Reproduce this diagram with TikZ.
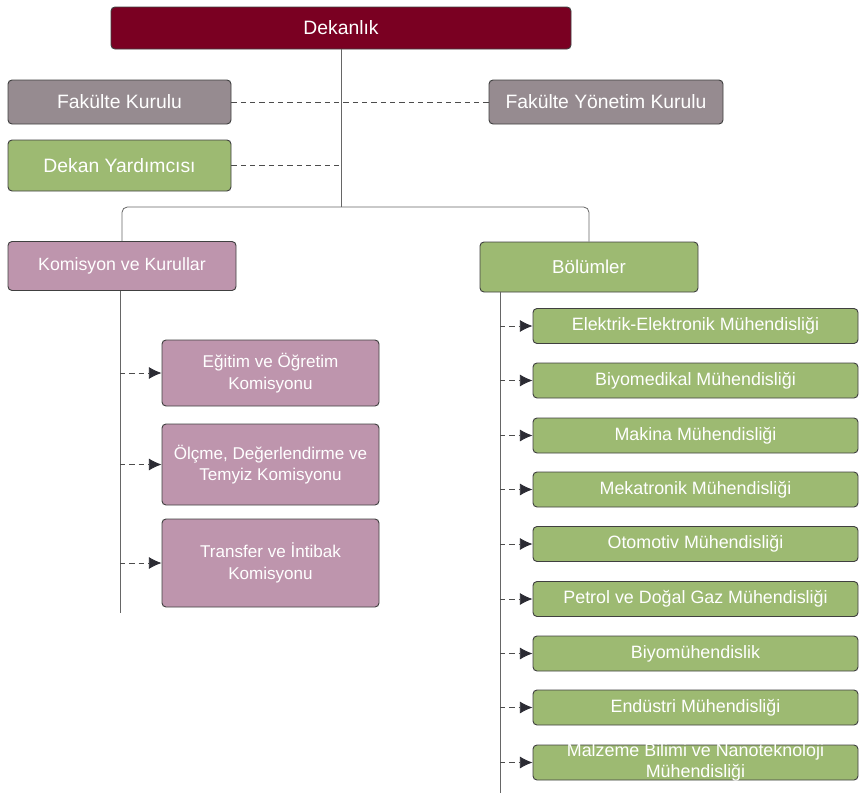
\documentclass[tikz,border=0pt]{standalone}
\usepackage{fontspec}
\setmainfont{Liberation Sans}
\usepackage{xcolor}
\usetikzlibrary{arrows.meta}
\usetikzlibrary{calc}

\definecolor{dekanred}{HTML}{7A0022}
\definecolor{kurulgray}{HTML}{968B90}
\definecolor{birimgreen}{HTML}{9DBA72}
\definecolor{komispink}{HTML}{BE95AD}
\definecolor{tipgray}{HTML}{2B2B33}

\tikzset{
  unitbox/.style={draw=black!75, line width=0.7pt, rounded corners=3pt, text=white,
    align=center, inner xsep=2pt, inner ysep=0pt, font=\fontsize{13}{16}\selectfont},
  topbox/.style={unitbox, font=\fontsize{14.5}{17}\selectfont},
  link/.style={draw=black!60, line width=0.6pt},
  dashlink/.style={draw=black!70, line width=0.6pt, dash pattern=on 4pt off 3pt},
  dasharrow/.style={dashlink, -{Latex[length=9.5pt,width=9pt,color=tipgray]}}
}

\begin{document}
\begin{tikzpicture}[x=0.75pt,y=-0.75pt]
        \useasboundingbox (0,0) rectangle (860,796);

        \node[topbox, fill=dekanred, minimum width=345pt, minimum height=31.5pt]
        (dekan) at (341,28) {Dekanlık};

        \node[topbox, fill=kurulgray, minimum width=167.25pt, minimum height=33pt]
        (fkurul) at (119.5,102) {Fakülte Kurulu};
        \node[topbox, fill=kurulgray, minimum width=175.5pt, minimum height=33pt]
        (fyk) at (606,102) {Fakülte Yönetim Kurulu};
        \node[topbox, fill=birimgreen, minimum width=167.25pt, minimum height=38.25pt]
        (dyard) at (119.5,165.5) {Dekan Yardımcısı};

        \coordinate (split) at (341,207);
        \draw[link] (dekan) -- (split);
        \draw[dashlink] (fkurul) -- (fyk);
        \draw[dashlink] (dyard.east) -- (dyard.east -| split);

        \node[unitbox, fill=komispink, minimum width=171pt, minimum height=36.75pt,
        font=\fontsize{13.3}{16}\selectfont] (komis) at (122,266) {Komisyon ve Kurullar};
        \node[unitbox, fill=birimgreen, minimum width=163.5pt, minimum height=37.5pt,
        font=\fontsize{14}{16}\selectfont] (bolum) at (589,267) {Bölümler};
        \draw[link, rounded corners=4pt] (komis.north) |- (split) -| (bolum.north);

        \node[unitbox, fill=komispink, minimum width=162.75pt, minimum height=49.5pt,
        font=\fontsize{12.8}{16.3}\selectfont] (egitim) at (270.5,373)
        {Eğitim ve Öğretim\\Komisyonu};
        \node[unitbox, fill=komispink, minimum width=162.75pt, minimum height=60.75pt,
        font=\fontsize{12.8}{16.3}\selectfont] (olcme) at (270.5,464.5)
        {Ölçme, Değerlendirme ve\\Temyiz Komisyonu};
        \node[unitbox, fill=komispink, minimum width=162.75pt, minimum height=66pt,
        font=\fontsize{12.8}{16.3}\selectfont] (transfer) at (270.5,563)
        {Transfer ve İntibak\\Komisyonu};

        \coordinate (kend) at (120,613);
        \draw[link] (komis.south -| kend) -- (kend);
        \foreach \n in {egitim,olcme,transfer}
          \draw[dasharrow] (\n.west -| kend) -- (\n.west);

        \coordinate (bend) at (500,793);
        \draw[link] (bolum.south -| bend) -- (bend);
        \foreach \y/\txt [count=\i] in {326/{Elektrik-Elektronik Mühendisliği},
          380.5/{Biyomedikal Mühendisliği}, 435.5/{Makina Mühendisliği},
          489.5/{Mekatronik Mühendisliği}, 544/{Otomotiv Mühendisliği},
          599/{Petrol ve Doğal Gaz Mühendisliği}, 653.5/{Biyomühendislik},
          707.5/{Endüstri Mühendisliği},
          762.5/{Malzeme Bilimi ve Nanoteknoloji\\Mühendisliği}}{
          \node[unitbox, fill=birimgreen, minimum width=243.75pt, minimum height=26.25pt,
          inner ysep=-1.5pt, font=\fontsize{13.4}{15.5}\selectfont] (dep\i) at (695.5,\y) {\txt};
          \draw[dasharrow] (dep\i.west -| bend) -- (dep\i.west);
        }
\end{tikzpicture}
\end{document}
